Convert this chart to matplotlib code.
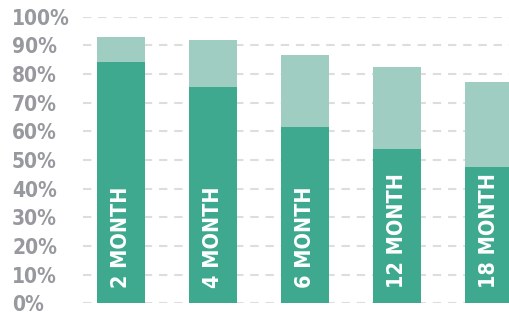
import matplotlib
matplotlib.use("Agg")
import matplotlib.pyplot as plt

categories = ["2 MONTH", "4 MONTH", "6 MONTH", "12 MONTH", "18 MONTH"]
dark_values = [84.2, 75.5, 61.5, 53.8, 47.7]
total_values = [92.9, 91.9, 86.6, 82.4, 77.2]
yticks = [0, 10, 20, 30, 40, 50, 60, 70, 80, 90, 100]
ytick_labels = [f"{v}%" for v in yticks]

DARK = "#3ea98f"
LIGHT = "#a0cdc2"
GRAY = "#97999e"

W, H = 510, 312
fig = plt.figure(figsize=(W / 100, H / 100), dpi=100)
left_px, right_px = 83, 510
y0_px, y100_px = 303.3, 16.7
ax = fig.add_axes([left_px / W, (H - y0_px) / H, (right_px - left_px) / W, (y0_px - y100_px) / H])

x = list(range(len(categories)))
width = 48 / 92
light_part = [t - d for t, d in zip(total_values, dark_values)]
ax.bar(x, dark_values, width=width, color=DARK, zorder=3)
ax.bar(x, light_part, bottom=dark_values, width=width, color=LIGHT, zorder=3)

for xi, lab in zip(x, categories):
    ax.text(xi, 5.3, lab, rotation=90, ha="center", va="bottom", color="white",
            fontsize=15.5, family="DejaVu Sans", fontstretch="condensed", fontweight="bold", zorder=4)

ax.set_xlim(-38 / 92, (510 - 121) / 92)
ax.set_ylim(0, 100)
ax.set_yticks(yticks)
ax.set_yticklabels(ytick_labels)
for t in ax.get_yticklabels():
    t.set_horizontalalignment("left")
    t.set_family("DejaVu Sans")
    t.set_fontstretch("condensed")
    t.set_fontweight("bold")
    t.set_fontsize(15)
    t.set_color(GRAY)
ax.tick_params(axis="y", length=0, pad=(left_px - 12) * 0.72)
ax.set_xticks([])
for s in ax.spines.values():
    s.set_visible(False)
ax.yaxis.grid(True, color="#dddddd", linewidth=1.5, linestyle=(0, (4, 3.3)), zorder=0)
ax.set_axisbelow(True)
ax.patch.set_alpha(0)

fig.savefig("out.png", dpi=100)
